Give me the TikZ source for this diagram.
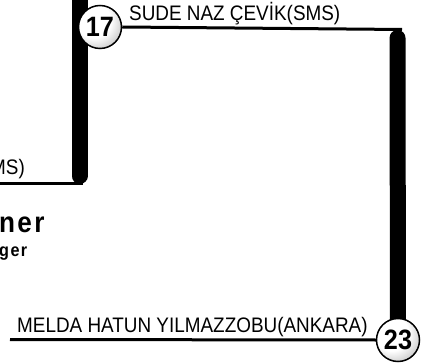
\documentclass[tikz,border=0pt]{standalone}
\usepackage{fontspec}
\setmainfont{Liberation Sans}
\newfontfamily\namefont[FakeStretch=0.9]{Liberation Sans}
\newfontfamily\spacedfont[FakeStretch=0.9, LetterSpace=8]{Liberation Sans}
\usepackage{tikz}
\pgfdeclarelayer{back}
\pgfsetlayers{back,main}
\pgfdeclareradialshading{seedshade}{\pgfpoint{-10bp}{10bp}}{color(0bp)=(white); color(20bp)=(white); color(50bp)=(black!45); color(80bp)=(black!55)}
\tikzstyle{seed}=[draw, circle, line width=1.5pt, minimum size=43pt, inner sep=0pt, shading=seedshade, font=\namefont\bfseries\fontsize{28}{28}\selectfont]
\tikzstyle{player}=[inner sep=0pt, font=\namefont\fontsize{21}{21}\selectfont]
\tikzstyle{wire}=[line width=3pt]
\tikzstyle{bar}=[line width=16pt, line cap=round]

\begin{document}
\begin{tikzpicture}[x=1pt, y=-1pt]
        \useasboundingbox (0,0) rectangle (444,363);
        \clip (0,0) rectangle (444,363);
        \node[seed] (s17) at (100,27) {17};
        \node[seed] (s23) at (398,340) {23};
        \coordinate (L0) at (79.5,-20);
        \coordinate (L1) at (79.5,176);
        \coordinate (W0) at (-5,183.5);
        \coordinate (W1) at (83,183.5);
        \coordinate (T1) at (402,29.5);
        \coordinate (R0) at (397.5,38);
        \coordinate (B0) at (10,339.5);
        \begin{pgfonlayer}{back}
        \draw[bar] (L0) -- (L1);
        \draw[wire] (W0) -- (W1);
        \draw[bar] (R0) -- (s23.center);
        \draw[wire] (s17.east) -- (T1);
        \draw[wire] (B0) -- (s23.west);
        \end{pgfonlayer}
        \node[player, anchor=base west] (sude) at (129,20.5) {SUDE NAZ ÇEVİK(SMS)};
        \node[player, anchor=base west] (melda) at (17,332) {MELDA HATUN YILMAZZOBU(ANKARA)};
        \node[player, anchor=base east] (sms) at (25,175) {MS)};
        \node[inner sep=0pt, anchor=base west, font=\spacedfont\bfseries\fontsize{29}{29}\selectfont] (ner) at (-1,233) {ner};
        \node[inner sep=0pt, anchor=base west, font=\spacedfont\bfseries\fontsize{18}{18}\selectfont] (ger) at (-1,256) {ger};
    \end{tikzpicture}
\end{document}
